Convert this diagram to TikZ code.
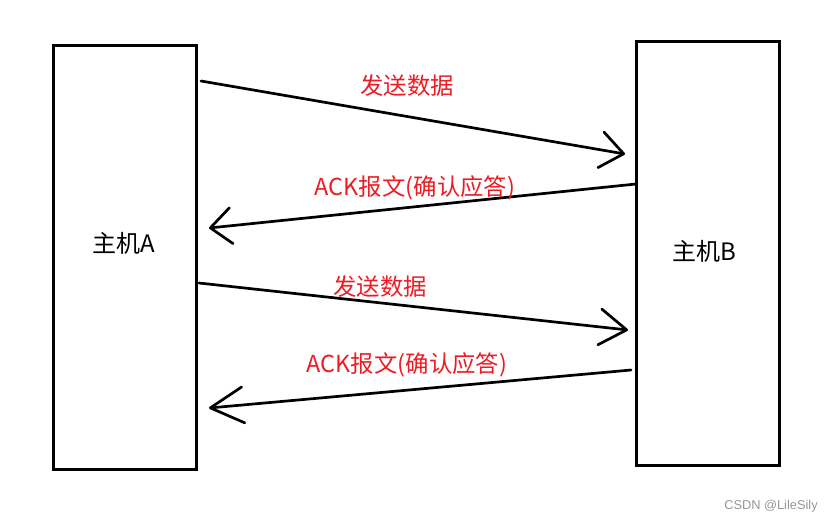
\documentclass[tikz,border=0pt]{standalone}
\usepackage{fontspec}
\newfontfamily\cjk{Noto Sans CJK SC}
\newfontfamily\markfont{Liberation Sans}
\usetikzlibrary{arrows.meta}
\definecolor{msgred}{RGB}{237,28,36}
\definecolor{markgray}{RGB}{150,150,150}

\begin{document}
\begin{tikzpicture}[x=1pt,y=-1pt]
                % define styles
\tikzset{host/.style={draw=black,
                      line width=3pt,
                      minimum width=143pt,
                      minimum height=424pt,
                      inner sep=0pt,
                      },
         hostname/.style={font=\cjk\fontsize{24}{28}\selectfont,
                      inner sep=0pt,
                      },
         msgtext/.style={text=msgred,
                      font=\cjk\fontsize{23.4}{28}\selectfont,
                      inner sep=0pt,
                      },
         msg/.style={draw=black,
                      line width=2.7pt,
                      line cap=round,
                      line join=round,
                      -{Straight Barb[length=#1,width=36pt,line cap=round,line join=round]},
                      },
}

\useasboundingbox (0,0) rectangle (832,523);

% hosts
\node[host]     (hostA) at  (124.5,257)   {};
\node[host]     (hostB) at  (707.5,253)   {};
\node[hostname] (nameA) at  (124,243)     {主机A};
\node[hostname] (nameB) at  (704,251)     {主机B};

% end points of the messages
\coordinate (s1) at (201,81);   \coordinate (t1) at (625,154);
\coordinate (s2) at (636,184);  \coordinate (t2) at (209,228);
\coordinate (s3) at (199,283);  \coordinate (t3) at (628,330);
\coordinate (s4) at (631,370);  \coordinate (t4) at (209,408);

% messages
\draw[msg=23pt] (s1) -- (t1);
\draw[msg=21pt] (s2) -- (t2);
\draw[msg=27pt] (s3) -- (t3);
\draw[msg=33pt] (s4) -- (t4);

% labels
\node[msgtext] (data1) at (407,86)  {发送数据};
\node[msgtext] (ack1)  at (415,188) {ACK报文(确认应答)};
\node[msgtext] (data2) at (380,287) {发送数据};
\node[msgtext] (ack2)  at (407,365) {ACK报文(确认应答)};

% watermark
\node[text=markgray,font=\markfont\fontsize{12.8}{15}\selectfont,inner sep=0pt]
    (mark) at (771,506) {CSDN @LileSily};
\end{tikzpicture}
\end{document}
